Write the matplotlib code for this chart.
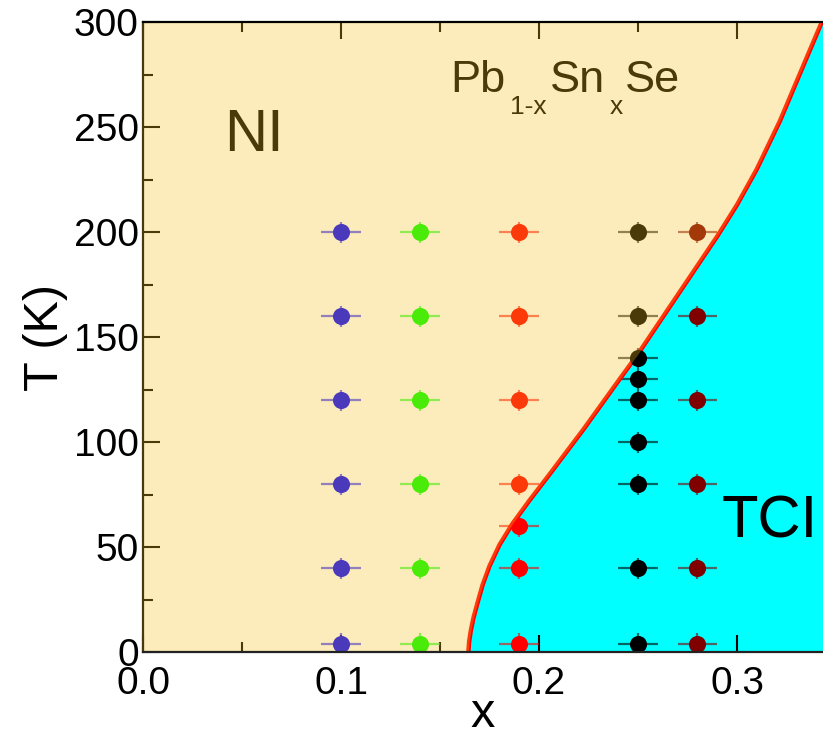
import matplotlib
matplotlib.use("Agg")
from matplotlib import pyplot as plt
from matplotlib.ticker import MultipleLocator, FormatStrFormatter

plt.rcParams["font.family"] = ["Liberation Sans", "DejaVu Sans"]

# phase boundary between NI and TCI (x, T)
boundaryX = [0.1643, 0.1647, 0.1655, 0.1668, 0.1688, 0.1715, 0.1750, 0.1800,
             0.1865, 0.1950, 0.2056, 0.2224, 0.2392, 0.2500, 0.2600, 0.2700,
             0.2800, 0.2900, 0.3000, 0.3100, 0.3217, 0.3320, 0.3428, 0.3445]
boundaryT = [0, 5, 10, 16, 23, 32, 41, 51, 61, 72, 85, 106, 128, 142, 156,
             170, 184, 198, 213, 230, 253, 276, 300, 304]

# measured samples: composition, temperatures, colour
sampleX = [0.10, 0.14, 0.19, 0.25, 0.28]
sampleT = [
    [4, 40, 80, 120, 160, 200],
    [4, 40, 80, 120, 160, 200],
    [4, 40, 60, 80, 120, 160, 200],
    [4, 40, 80, 100, 120, 130, 140, 160, 200],
    [4, 40, 80, 120, 160, 200],
]
sampleColors = ["#0000ff", "#00ff00", "#ff0000", "#000000", "#800000"]
xErr = 0.01
tErr = 5

# formula pieces: text, x, T, size
formulaParts = [
    ("Pb", 0.1551, 266.8, 32.5),
    ("1-x", 0.1854, 256.2, 19),
    ("Sn", 0.2056, 266.8, 32.5),
    ("x", 0.2359, 256.2, 19),
    ("Se", 0.2434, 266.8, 32.5),
]

X_MAX = 0.3434
T_MAX = 300
OLIVE = "#4a3a0a"

fig = plt.figure(figsize=(8.23, 7.37), dpi=100)
ax = fig.add_axes([0.1738, 0.1153, 1.0 - 0.1738, 0.8548])

# TCI region
ax.fill_betweenx(boundaryT, boundaryX, X_MAX + 0.01, color="#00ffff",
                 linewidth=0, zorder=1)

for x, temps, c in zip(sampleX, sampleT, sampleColors):
    eb = ax.errorbar([x] * len(temps), temps, xerr=xErr, yerr=tErr, fmt="o",
                     color=c, ecolor=c, markersize=12.3, elinewidth=1.6,
                     capsize=4.7, capthick=1.6, markeredgewidth=0, zorder=2)
    for cap in eb[1]:
        cap.set_alpha(0.6)
    for bar in eb[2]:
        bar.set_alpha(0.6)

ax.plot(boundaryX, boundaryT, color="#ff0000", linewidth=3.2, zorder=2.05,
        solid_joinstyle="round")

ax.text(0.0561, 246, "NI", fontsize=43, ha="center", va="center",
        color="black", zorder=2.1)
ax.text(0.3167, 62, "TCI", fontsize=43, ha="center", va="center",
        color="black", zorder=2.1)
for label, fx, ft, size in formulaParts:
    ax.text(fx, ft, label, fontsize=size, ha="left", va="baseline",
            color="black", zorder=2.1)

# NI region: translucent overlay
ax.fill_betweenx(boundaryT, -0.01, boundaryX, color="#f7be1e", alpha=0.3,
                 linewidth=0, zorder=2.2)

ax.set_xlim(0, X_MAX)
ax.set_ylim(0, T_MAX)
ax.xaxis.set_major_locator(MultipleLocator(0.1))
ax.xaxis.set_minor_locator(MultipleLocator(0.05))
ax.xaxis.set_major_formatter(FormatStrFormatter("%.1f"))
ax.yaxis.set_major_locator(MultipleLocator(50))
ax.yaxis.set_minor_locator(MultipleLocator(25))

ax.tick_params(which="both", direction="in", top=True, right=False,
               labelsize=28, width=1.5)
ax.tick_params(which="major", length=12)
ax.tick_params(which="minor", length=7)
ax.tick_params(axis="x", pad=10)
ax.tick_params(axis="y", pad=3)

for side in ["left", "bottom", "top"]:
    ax.spines[side].set_linewidth(1.6)
ax.spines["right"].set_visible(False)
ax.spines["left"].set_color(OLIVE)
ax.spines["bottom"].set_color("#222222")

ax.set_xlabel("x", fontsize=35, labelpad=-7)
ax.set_ylabel("T (K)", fontsize=35, labelpad=4)

fig.savefig("out.png", dpi=100)
